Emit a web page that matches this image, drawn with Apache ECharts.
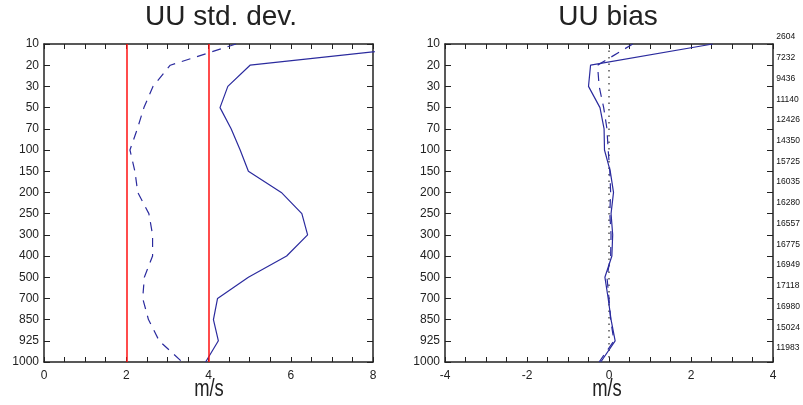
<!DOCTYPE html>
<html><head><meta charset="utf-8">
<script src="https://cdn.jsdelivr.net/npm/echarts@6/dist/echarts.min.js"></script>
<style>html,body{margin:0;padding:0;background:#fff}#c{width:803px;height:405px}</style>
</head><body><div id="c"></div>
<script>
const levels = ['10','20','30','50','70','100','150','200','250','300','400','500','700','850','925','1000'];
const counts = ['2604','7232','9436','11140','12426','14350','15725','16035','16280','16557','16775','16949','17118','16980','15024','11983'];
const stdSolid  = [9.76,5.01,4.47,4.28,4.55,4.77,4.97,5.77,6.27,6.41,5.90,4.97,4.22,4.12,4.24,3.93];
const stdDashed = [4.67,3.07,2.65,2.43,2.27,2.09,2.21,2.28,2.55,2.64,2.64,2.44,2.40,2.54,2.80,3.36];
const biasSolid  = [2.53,-0.45,-0.50,-0.22,-0.12,-0.11,0.03,0.11,0.05,0.09,0.07,-0.10,-0.02,0.05,0.15,-0.20];
const biasDashed = [0.58,-0.28,-0.24,-0.13,-0.05,-0.02,0.02,0.04,0.02,0.05,0.04,-0.05,0.00,0.04,0.12,-0.24];
const zeroLine = [0,0,0,0,0,0,0,0,0,0,0,0,0,0,0,0];
const refLines = [2,4];

const blue = '#2b2b9e';
const axisCol = '#222';
const font = 'Liberation Sans, Arial, sans-serif';
const chart = echarts.init(document.getElementById('c'), null, {renderer:'canvas'});

function xAx(gi, min, max, pos, labels){
  return {type:'value', gridIndex:gi, position:pos, min:min, max:max, interval:2,
    axisLine:{show:true, onZero:false, lineStyle:{color:axisCol, width:1.5}},
    axisTick:{show:true, inside:true, length:5, lineStyle:{color:axisCol}},
    minorTick:{show:true, splitNumber:4, length:5, lineStyle:{color:axisCol}},
    axisLabel:{show:labels, margin:8, fontSize:12, color:'#222', fontFamily:font},
    splitLine:{show:false}, minorSplitLine:{show:false}};
}
function yAx(gi, pos, labels){
  return {type:'category', gridIndex:gi, position:pos, data:levels, inverse:true, boundaryGap:false,
    axisLine:{show:true, onZero:false, lineStyle:{color:axisCol, width:1.5}},
    axisTick:{show:true, inside:true, length:6, lineStyle:{color:axisCol}},
    axisLabel:{show:labels, margin:5, fontSize:12, color:'#222', fontFamily:font, interval:0},
    splitLine:{show:false}};
}

chart.setOption({
  animation:false,
  backgroundColor:'#fff',
  grid:[
    {left:44, top:44, width:329, height:318},
    {left:445, top:44, width:328, height:318},
    {left:771, top:37, width:1, height:311}
  ],
  xAxis:[
    xAx(0,0,8,'bottom',true), xAx(0,0,8,'top',false),
    xAx(1,-4,4,'bottom',true), xAx(1,-4,4,'top',false),
    {type:'value', gridIndex:2, show:false, min:0, max:1}
  ],
  yAxis:[
    yAx(0,'left',true), yAx(0,'right',false),
    yAx(1,'left',true), yAx(1,'right',false),
    {type:'category', gridIndex:2, position:'right', data:counts, inverse:true, boundaryGap:false,
     axisLine:{show:false}, axisTick:{show:false}, splitLine:{show:false},
     axisLabel:{show:true, interval:0, margin:5, fontSize:8.5, color:'#111', fontFamily:font}}
  ],
  series:[
    {type:'line', xAxisIndex:0, yAxisIndex:0, data:stdSolid, symbol:'none', clip:true,
     lineStyle:{color:blue, width:1.2},
     markLine:{silent:true, symbol:'none', label:{show:false},
       lineStyle:{color:'#ff1010', width:1.5, type:'solid'},
       data:refLines.map(v=>({xAxis:v}))}},
    {type:'line', xAxisIndex:0, yAxisIndex:0, data:stdDashed, symbol:'none', clip:true,
     lineStyle:{color:blue, width:1.2, type:[9,7]}},
    {type:'line', xAxisIndex:2, yAxisIndex:2, data:zeroLine, symbol:'none',
     lineStyle:{color:'#555', width:1.5, type:[1.5,5]}},
    {type:'line', xAxisIndex:2, yAxisIndex:2, data:biasSolid, symbol:'none', clip:true,
     lineStyle:{color:blue, width:1.2}},
    {type:'line', xAxisIndex:2, yAxisIndex:2, data:biasDashed, symbol:'none', clip:true,
     lineStyle:{color:blue, width:1.2, type:[9,7]}}
  ],
  graphic:[
    {type:'text', x:221, y:17, style:{text:'UU std. dev.', font:'28px Liberation Sans, Arial, sans-serif', fill:'#222', textAlign:'center', textVerticalAlign:'middle'}},
    {type:'text', x:608, y:17, style:{text:'UU bias', font:'28px Liberation Sans, Arial, sans-serif', fill:'#222', textAlign:'center', textVerticalAlign:'middle'}},
    {type:'text', x:209, y:390, scaleX:0.8, style:{text:'m/s', font:'23px Liberation Sans, Arial, sans-serif', fill:'#222', textAlign:'center', textVerticalAlign:'middle'}},
    {type:'text', x:607, y:390, scaleX:0.8, style:{text:'m/s', font:'23px Liberation Sans, Arial, sans-serif', fill:'#222', textAlign:'center', textVerticalAlign:'middle'}}
  ]
});
</script></body></html>
